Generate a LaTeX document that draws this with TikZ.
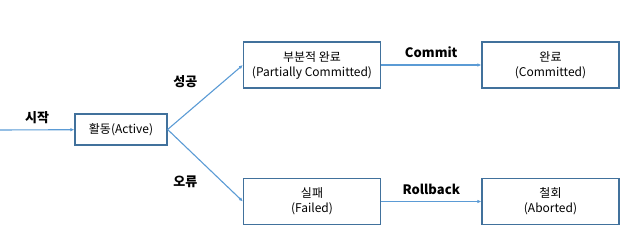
\documentclass[tikz,border=0pt]{standalone}
\usepackage{fontspec}
\setmainfont{Noto Sans CJK KR}
\usetikzlibrary{arrows.meta, positioning}
\definecolor{boxline}{HTML}{41719C}
\definecolor{arrowline}{HTML}{5B9BD5}

\begin{document}
\begin{tikzpicture}[
    x=1pt, y=-1pt,
    state/.style={
        draw=boxline,
        line width=1.2pt,
        minimum width=137pt,
        minimum height=46pt,
        align=center,
        font=\fontsize{12}{15}\selectfont
    },
    arrow/.style={-{Latex[length=4pt,width=3.5pt]}, draw=arrowline, line width=1.1pt},
    lbl/.style={text=black, font=\fontsize{13}{15}\selectfont\bfseries}
]
\useasboundingbox (0,0) rectangle (639,248);
\node[state, minimum width=92pt, minimum height=31pt] (active) at (121,129.5) {활동(Active)};
\node[state] (partial) at (312,65) {부분적 완료\\(Partially Committed)};
\node[state] (committed) at (550.5,65) {완료\\(Committed)};
\node[state] (failed) at (312,201.5) {실패\\(Failed)};
\node[state] (aborted) at (550.5,201.5) {철회\\(Aborted)};
\coordinate (start) at (0,130);

\draw[arrow] (start) -- (active) node[lbl, midway, above=2pt] {시작};
\draw[arrow] (active.east) -- (partial.west) node[lbl, pos=0.5, above left=6pt and 4pt] {성공};
\draw[arrow] (active.east) -- (failed.west) node[lbl, pos=0.5, below left=6pt and 4pt] {오류};
\draw[arrow] (partial) -- (committed) node[lbl, midway, above=3pt] {Commit};
\draw[arrow] (failed) -- (aborted) node[lbl, midway, above=3pt] {Rollback};
\end{tikzpicture}
\end{document}
